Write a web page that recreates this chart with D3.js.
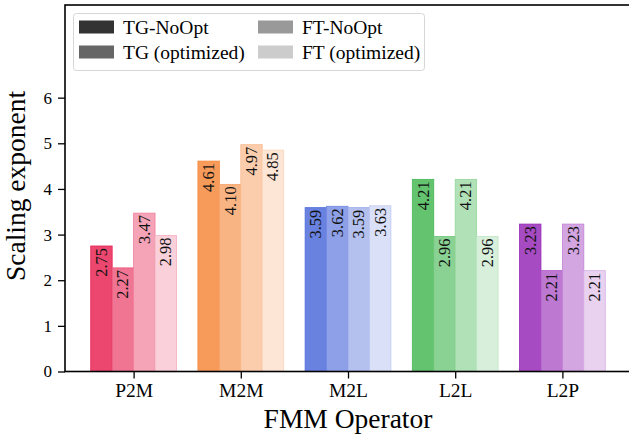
<!DOCTYPE html>
<html>
<head>
<meta charset="utf-8">
<script src="https://cdn.jsdelivr.net/npm/d3@7"></script>
<style>
  body { margin: 0; background: #fff; }
  svg { display: block; }
</style>
</head>
<body>
<div id="chart"></div>
<script>
var operators = ["P2M", "M2M", "M2L", "L2L", "L2P"];
var series = ["TG-NoOpt", "TG (optimized)", "FT-NoOpt", "FT (optimized)"];
var tgNoOpt = [2.75, 4.61, 3.59, 4.21, 3.23];
var tgOpt   = [2.27, 4.10, 3.62, 2.96, 2.21];
var ftNoOpt = [3.47, 4.97, 3.59, 4.21, 3.23];
var ftOpt   = [2.98, 4.85, 3.63, 2.96, 2.21];
var yTicks = [0, 1, 2, 3, 4, 5, 6];
var baseColors = ["#e6194B", "#f58231", "#4363d8", "#3cb44b", "#911eb4"];
var alphas = [0.8, 0.6, 0.4, 0.2];

var values = [tgNoOpt, tgOpt, ftNoOpt, ftOpt];

var width = 629, height = 439;
var serif = "'Liberation Serif', 'DejaVu Serif', serif";

var svg = d3.select("#chart").append("svg")
  .attr("width", width).attr("height", height);

// axes area runs a little past the right edge, like the original
var x = d3.scaleLinear().domain([-0.64, 4.64]).range([65, 631]);
var y = d3.scaleLinear().domain([0, 8.03]).range([371.5, 5]);
var barW = x(0.2) - x(0);
var offsets = [-0.3, -0.1, 0.1, 0.3];

function mix(c, a) {
  var col = d3.rgb(c);
  return d3.rgb(255 + (col.r - 255) * a, 255 + (col.g - 255) * a, 255 + (col.b - 255) * a).formatHex();
}

var bars = [];
operators.forEach(function(op, i) {
  series.forEach(function(s, j) {
    bars.push({ op: op, i: i, j: j, v: values[j][i] });
  });
});

var g = svg.append("g");
g.selectAll("rect.bar")
  .data(bars)
  .enter()
  .append("rect")
  .attr("class", "bar")
  .attr("x", function(d) { return x(d.i + offsets[d.j]) - barW / 2; })
  .attr("y", function(d) { return y(d.v); })
  .attr("width", barW)
  .attr("height", function(d) { return y(0) - y(d.v); })
  .attr("fill", function(d) { return mix(baseColors[d.i], alphas[d.j]); })
  .attr("stroke", function(d) { return mix(baseColors[d.i], Math.min(1, alphas[d.j] + 0.15)); })
  .attr("stroke-width", 0.8);

// value labels, rotated, hanging from the top of each bar
g.selectAll("text.val")
  .data(bars)
  .enter()
  .append("text")
  .attr("class", "val")
  .attr("transform", function(d) {
    return "translate(" + x(d.i + offsets[d.j]) + "," + (y(d.v) + 2) + ") rotate(-90)";
  })
  .attr("dominant-baseline", "central")
  .attr("text-anchor", "end")
  .style("font-family", serif)
  .style("font-size", "16.5px")
  .style("fill", "#111")
  .text(function(d) { return d.v.toFixed(2); });

// y axis
var yAxis = d3.axisLeft(y).tickValues(yTicks).tickSize(7).tickPadding(6).tickFormat(d3.format("d"));
var ya = svg.append("g").attr("transform", "translate(65,0)").call(yAxis);
ya.select(".domain").remove();
ya.selectAll("line").attr("stroke", "#000").attr("stroke-width", 1.3);
ya.selectAll("text").style("font-family", serif).style("font-size", "17px").style("fill", "#000");

// x axis
var xAxis = d3.axisBottom(x).tickValues(d3.range(operators.length)).tickSize(7).tickPadding(5)
  .tickFormat(function(d) { return operators[d]; });
var xa = svg.append("g").attr("transform", "translate(0,371.5)").call(xAxis);
xa.select(".domain").remove();
xa.selectAll("line").attr("stroke", "#000").attr("stroke-width", 1.3);
xa.selectAll("text").style("font-family", serif).style("font-size", "19.5px").style("fill", "#000");

// frame
svg.append("rect")
  .attr("x", 65).attr("y", 5)
  .attr("width", 640).attr("height", 366.5)
  .attr("fill", "none").attr("stroke", "#000").attr("stroke-width", 1.6);

// labels
svg.append("text")
  .attr("transform", "translate(25,186) rotate(-90)")
  .attr("text-anchor", "middle")
  .style("font-family", serif).style("font-size", "27.5px")
  .text("Scaling exponent");

svg.append("text")
  .attr("x", 348).attr("y", 428)
  .attr("text-anchor", "middle")
  .style("font-family", serif).style("font-size", "27.5px")
  .text("FMM Operator");

// legend
var leg = svg.append("g");
leg.append("rect")
  .attr("x", 73.5).attr("y", 13.5).attr("width", 351).attr("height", 57)
  .attr("rx", 3)
  .attr("fill", "#fff").attr("fill-opacity", 0.8)
  .attr("stroke", "#d6d6d6").attr("stroke-width", 1);

var legX = [79, 258];
var legY = [20.5, 45.5];
var legItems = series.map(function(s, j) {
  return { name: s, col: Math.floor(j / 2), row: j % 2, j: j };
});
var li = leg.selectAll("g.item").data(legItems).enter().append("g").attr("class", "item");
li.append("rect")
  .attr("x", function(d) { return legX[d.col]; })
  .attr("y", function(d) { return legY[d.row]; })
  .attr("width", 35).attr("height", 13)
  .attr("fill", function(d) { return mix("#000000", alphas[d.j]); });
li.append("text")
  .attr("x", function(d) { return legX[d.col] + 44; })
  .attr("y", function(d) { return legY[d.row] + 6.5; })
  .attr("dominant-baseline", "central")
  .style("font-family", serif).style("font-size", "19.5px")
  .text(function(d) { return d.name; });
</script>
</body>
</html>
